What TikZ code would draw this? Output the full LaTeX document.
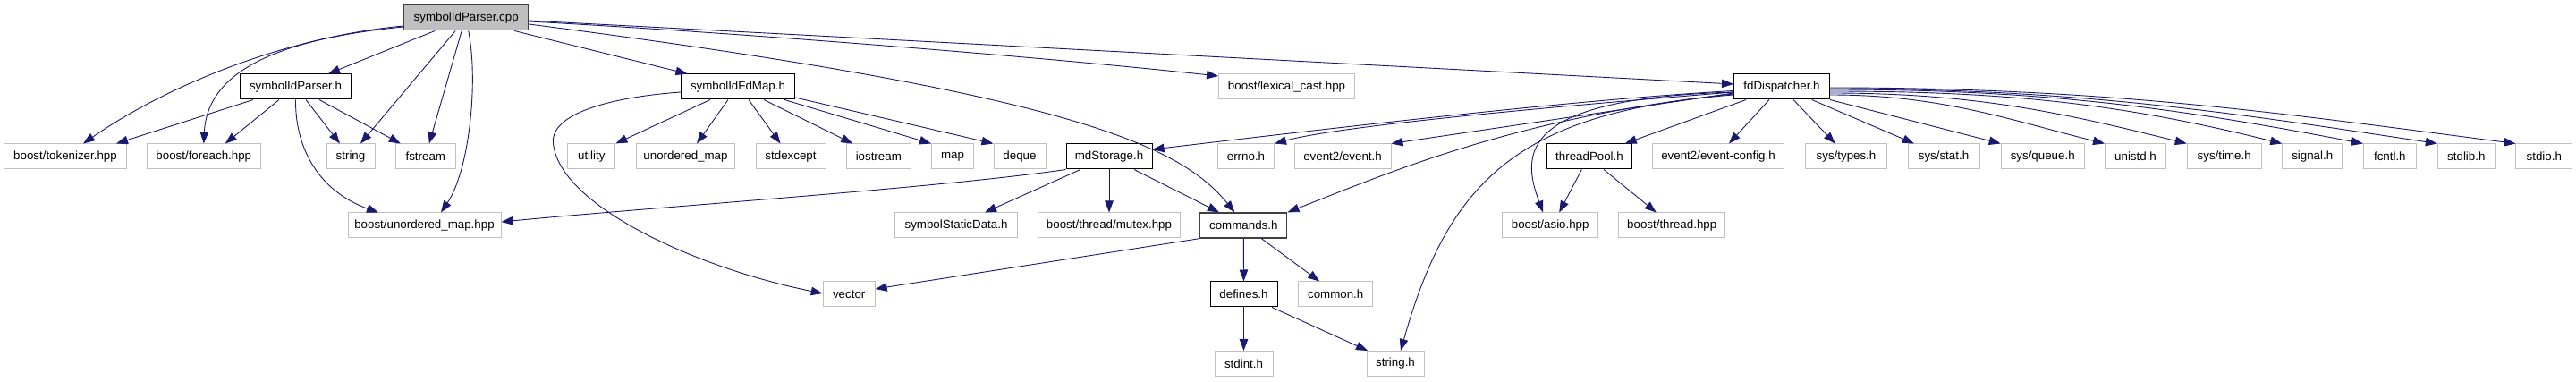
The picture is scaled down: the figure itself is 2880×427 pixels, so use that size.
\documentclass[tikz,border=0pt]{standalone}
\usepackage{fontspec}
\setmainfont{Liberation Sans}
\usetikzlibrary{arrows.meta,calc}
\definecolor{depblue}{HTML}{191970}
\definecolor{extgrey}{HTML}{BFBFBF}
\definecolor{rootfill}{HTML}{BFBFBF}
\definecolor{rootline}{HTML}{404040}
\tikzset{
  box/.style={rectangle, inner sep=0pt, minimum height=28pt, line width=1pt,
    font=\fontsize{13.33}{16}\selectfont, text=black},
  doc/.style={box, draw=black, fill=white},
  ext/.style={box, draw=extgrey, fill=white},
  root/.style={box, draw=rootline, fill=rootfill},
  dark/.style={box, draw=rootline, line width=1.3pt, fill=white},
  dep/.style={draw=depblue, line width=0.9pt, -{Triangle[length=13pt,width=9.5pt]}, fill=none},
}
\begin{document}
\begin{tikzpicture}[x=1pt,y=-1pt]
\fill[white] (0,0) rectangle (2880,427);
\useasboundingbox (0,0) rectangle (2880,427);
% row 1
\node[root, minimum width=139pt] (cpp) at (521.2,20) {symbolIdParser.cpp};
% row 2
\node[doc, minimum width=124pt] (sph) at (330.5,97) {symbolIdParser.h};
\node[doc, minimum width=127pt] (sfm) at (825,97) {symbolIdFdMap.h};
\node[ext, minimum width=152pt] (lex) at (1438.5,97) {boost/lexical\_cast.hpp};
\node[doc, minimum width=107pt] (fdd) at (1992,97) {fdDispatcher.h};
% row 3
\node[ext, minimum width=137pt] (tok) at (73,175) {boost/tokenizer.hpp};
\node[ext, minimum width=127pt] (fe) at (227.8,175) {boost/foreach.hpp};
\node[ext, minimum width=54pt] (str) at (392,175) {string};
\node[ext, minimum width=67pt] (fst) at (475.8,175) {fstream};
\node[ext, minimum width=53pt] (util) at (661.3,175) {utility};
\node[ext, minimum width=110pt] (um) at (766.5,175) {unordered\_map};
\node[ext, minimum width=78pt] (stde) at (884,175) {stdexcept};
\node[ext, minimum width=72pt] (ios) at (982.3,175) {iostream};
\node[ext, minimum width=47pt] (map) at (1065,175) {map};
\node[ext, minimum width=58pt] (deq) at (1140,175) {deque};
\node[doc, minimum width=96pt] (mds) at (1240,175) {mdStorage.h};
\node[ext, minimum width=63pt] (errno) at (1393,175) {errno.h};
\node[ext, minimum width=108pt] (ev) at (1501,175) {event2/event.h};
\node[doc, minimum width=95pt] (tp) at (1777,175) {threadPool.h};
\node[ext, minimum width=147pt] (evc) at (1921,175) {event2/event-config.h};
\node[ext, minimum width=91pt] (types) at (2064,175) {sys/types.h};
\node[ext, minimum width=80pt] (stat) at (2173,175) {sys/stat.h};
\node[ext, minimum width=93pt] (queue) at (2283.7,175) {sys/queue.h};
\node[ext, minimum width=68pt] (unistd) at (2387.5,175) {unistd.h};
\node[ext, minimum width=83pt] (time) at (2486.7,175) {sys/time.h};
\node[ext, minimum width=67pt] (signal) at (2585.2,175) {signal.h};
\node[ext, minimum width=59pt] (fcntl) at (2671.8,175) {fcntl.h};
\node[ext, minimum width=64pt] (stdlib) at (2757.3,175) {stdlib.h};
\node[ext, minimum width=62.7pt] (stdio) at (2844.3,175) {stdio.h};
% row 4
\node[ext, minimum width=171pt] (bum) at (474.5,252) {boost/unordered\_map.hpp};
\node[ext, minimum width=137pt] (ssd) at (1069,252) {symbolStaticData.h};
\node[ext, minimum width=159pt] (mtx) at (1240,252) {boost/thread/mutex.hpp};
\node[dark, minimum width=97pt] (cmd) at (1390.3,252) {commands.h};
\node[ext, minimum width=107pt] (asio) at (1733.2,252) {boost/asio.hpp};
\node[ext, minimum width=119pt] (bth) at (1869.2,252) {boost/thread.hpp};
% row 5
\node[ext, minimum width=58pt] (vec) at (949.2,329) {vector};
\node[doc, minimum width=75pt] (def) at (1390.5,329) {defines.h};
\node[ext, minimum width=83pt] (com) at (1493.2,329) {common.h};
% row 6
\node[ext, minimum width=65pt] (stdint) at (1390.5,406.5) {stdint.h};
\node[ext, minimum width=64pt] (strh) at (1560,406.5) {string.h};

% edges from symbolIdParser.cpp
\draw[dep] ($(cpp.south)+(-35,0)$) -- ($(sph.north)+(36.5,0)$);
\draw[dep] ($(cpp.west)+(0,9)$) .. controls (330,40) and (195,90) .. ($(tok.north)+(20,0)$);
\draw[dep] ($(cpp.west)+(0,10)$) .. controls (330,42) and (232,72) .. (fe.north);
\draw[dep] ($(cpp.south)+(-12,0)$) -- ($(str.north)+(11,0)$);
\draw[dep] ($(cpp.south)+(-5,0)$) -- ($(fst.north)+(4,0)$);
\draw[dep] ($(cpp.south)+(2.5,0)$) .. controls (535,90) and (525,190) .. ($(bum.north)+(18.5,0)$);
\draw[dep] ($(cpp.south)+(54,0)$) -- ($(sfm.north)+(-56.5,0)$);
\draw[dep] ($(cpp.east)+(0,4)$) .. controls (800,35) and (1150,62) .. ($(lex.west)+(0,-12)$);
\draw[dep] ($(cpp.east)+(0,3)$) -- ($(fdd.west)+(0,-3)$);
\draw[dep] ($(cpp.east)+(0,7)$) .. controls (1200,105) and (1320,163) .. ($(cmd.north)+(-10,0)$);
% edges from symbolIdParser.h
\draw[dep] ($(sph.south)+(-47.5,0)$) -- ($(tok.north)+(57,0)$);
\draw[dep] ($(sph.south)+(-18.5,0)$) -- ($(fe.north)+(24,0)$);
\draw[dep] ($(sph.south)+(11.5,0)$) -- ($(str.north)+(-12,0)$);
\draw[dep] ($(sph.south)+(26.5,0)$) -- ($(fst.north)+(-28,0)$);
\draw[dep] (sph.south) .. controls (330,170) and (360,215) .. ($(bum.north)+(-51.5,0)$);
% edges from symbolIdFdMap.h
\draw[dep] ($(sfm.south)+(-31,0)$) -- (util.north east);
\draw[dep] ($(sfm.south)+(-11,0)$) -- ($(um.north)+(12.5,0)$);
\draw[dep] ($(sfm.south)+(12,0)$) -- ($(stde.north)+(-11.5,0)$);
\draw[dep] ($(sfm.south)+(29,0)$) -- ($(ios.north)+(-29,0)$);
\draw[dep] ($(sfm.south)+(52,0)$) -- (map.north west);
\draw[dep] ($(sfm.east)+(0,12)$) -- (deq.north west);
\draw[dep] ($(sfm.west)+(0,6)$) .. controls (690,108) and (615,125) .. (618.5,160)
   .. controls (625,230) and (780,300) .. ($(vec.west)+(0,-1)$);
% edges from mdStorage.h
\draw[dep] (mds.south west) .. controls (1050,210) and (750,230) .. ($(bum.east)+(0,-4)$);
\draw[dep] ($(mds.south)+(-32,0)$) -- ($(ssd.north)+(32,0)$);
\draw[dep] (mds.south) -- (mtx.north);
\draw[dep] ($(mds.south)+(28,0)$) -- ($(cmd.north)+(-27.3,0)$);
% edges from commands.h
\draw[dep] (cmd.south west) -- ($(vec.east)+(0,-6)$);
\draw[dep] (cmd.south) -- (def.north);
\draw[dep] ($(cmd.south)+(20,0)$) -- ($(com.north)+(-18,0)$);
% edges from defines.h
\draw[dep] (def.south) -- (stdint.north);
\draw[dep] ($(def.south)+(31.5,0)$) -- ($(strh.north west)+(1.5,0)$);
% edges from fdDispatcher.h
\draw[dep] ($(fdd.west)+(0,4.5)$) .. controls (1750,112) and (1450,148) .. ($(mds.east)+(0,-8)$);
\draw[dep] ($(fdd.west)+(0,6)$) .. controls (1750,118) and (1500,140) .. (errno.north east);
\draw[dep] ($(fdd.west)+(0,7)$) -- (ev.north east);
\draw[dep] ($(fdd.west)+(0,8)$) .. controls (1700,130) and (1560,190) .. (cmd.north east);
\draw[dep] ($(fdd.west)+(0,9)$) .. controls (1700,125) and (1620,200) .. ($(strh.north)+(6,0)$);
\draw[dep] ($(fdd.west)+(0,6)$) .. controls (1700,110) and (1700,170) .. ($(asio.north)+(-8,0)$);
\draw[dep] ($(fdd.south)+(-40,0)$) -- ($(tp.north)+(39.7,0)$);
\draw[dep] ($(fdd.south)+(-14,0)$) -- ($(evc.north)+(12,0)$);
\draw[dep] ($(fdd.south)+(13,0)$) -- ($(types.north)+(-12.3,0)$);
\draw[dep] ($(fdd.south)+(33.7,0)$) -- ($(stat.north)+(-33,0)$);
\draw[dep] (fdd.south east) -- (queue.north west);
\draw[dep] ($(fdd.east)+(0,9)$) .. controls +(123,0) and +(-108,-27) .. (unistd.north west);
\draw[dep] ($(fdd.east)+(0,7)$) .. controls +(160,0) and +(-140,-35) .. (time.north west);
\draw[dep] ($(fdd.east)+(0,5)$) .. controls +(202,0) and +(-177,-44) .. (signal.north west);
\draw[dep] ($(fdd.east)+(0,3)$) .. controls +(239,0) and +(-209,-40) .. (fcntl.north west);
\draw[dep] ($(fdd.east)+(0,2)$) .. controls +(272,0) and +(-238,-36) .. (stdlib.north west);
\draw[dep] ($(fdd.east)+(0,1)$) .. controls +(307,0) and +(-269,-35) .. (stdio.north west);
% edges from threadPool.h
\draw[dep] ($(tp.south)+(-8.7,0)$) -- ($(asio.north)+(10,0)$);
\draw[dep] ($(tp.south)+(16,0)$) -- ($(bth.north)+(-17.5,0)$);
\end{tikzpicture}
\end{document}
